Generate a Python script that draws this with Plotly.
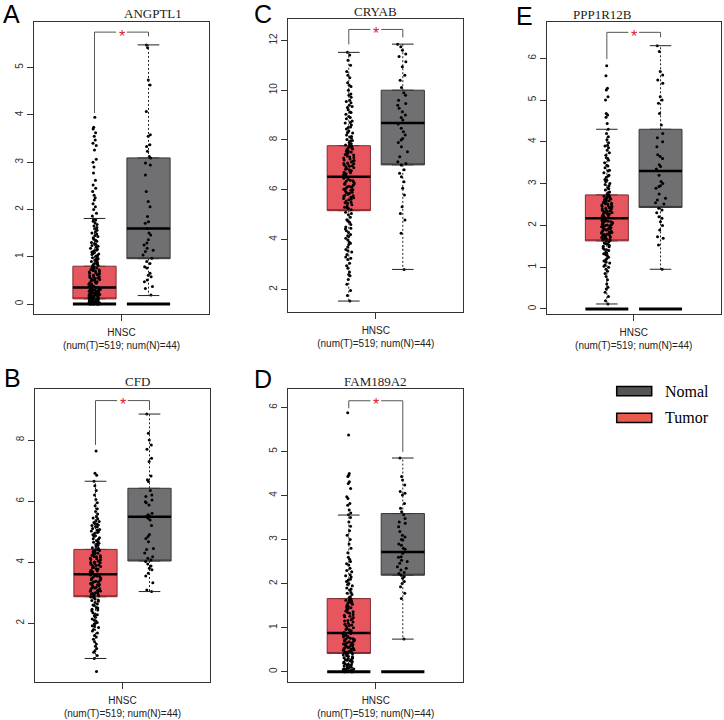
import plotly.graph_objects as go

# ---------------- data ----------------
genes = ["ANGPTL1", "CFD", "CRYAB", "FAM189A2", "PPP1R12B"]
panel_letters = ["A", "B", "C", "D", "E"]
cancer_label = "HNSC"
n_tumor = 519
n_normal = 44
legend_labels = ["Nomal", "Tumor"]

# box statistics (one value per gene, order as `genes`)
tumor_q1 = [0.11, 2.87, 5.16, 0.415, 1.63]
tumor_med = [0.35, 3.61, 6.52, 0.88, 2.17]
tumor_q3 = [0.80, 4.42, 7.77, 1.66, 2.73]
tumor_lo = [0.0, 0.85, 1.53, 0.0, 0.12]
tumor_hi = [1.81, 6.65, 11.52, 3.556, 4.30]

normal_q1 = [0.96, 4.04, 7.00, 2.19, 2.43]
normal_med = [1.60, 5.49, 8.68, 2.72, 3.30]
normal_q3 = [3.09, 6.42, 10.00, 3.59, 4.30]
normal_lo = [0.18, 3.04, 2.80, 0.74, 0.95]
normal_hi = [5.48, 8.85, 11.85, 4.85, 6.30]

# significance bracket heights (left leg end, top, right leg end)
bracket_left = [4.04, 7.84, 11.84, 5.98, 5.98]
bracket_top = [5.75, 9.29, 12.44, 6.15, 6.62]
bracket_right = [5.66, 8.98, 12.12, 4.99, 6.50]
significance = ["*", "*", "*", "*", "*"]

baseline_value = 0.0

angptl1_tumor = [0, 0, 0, 0, 0, 0, 0.01, 0.01, 0.02, 0.02, 0.03, 0.03, 0.04, 0.04, 0.05, 0.05,
                 0.06, 0.06, 0.07, 0.07, 0.08, 0.08, 0.09, 0.09, 0.1, 0.1, 0.02, 0.03, 0.05, 0.06, 0.08, 0.04,
                 0.12, 0.13, 0.14, 0.15, 0.16, 0.17, 0.18, 0.19, 0.2, 0.21, 0.22, 0.23, 0.24, 0.25, 0.26, 0.27,
                 0.28, 0.29, 0.3, 0.31, 0.32, 0.33, 0.34, 0.14, 0.17, 0.2, 0.23, 0.26, 0.29, 0.32, 0.13, 0.19,
                 0.36, 0.38, 0.4, 0.41, 0.43, 0.45, 0.46, 0.48, 0.5, 0.51, 0.53, 0.55, 0.56, 0.58, 0.6, 0.61,
                 0.63, 0.65, 0.66, 0.68, 0.7, 0.71, 0.73, 0.75, 0.76, 0.78, 0.79, 0.39, 0.44, 0.52, 0.62, 0.72,
                 0.82, 0.84, 0.85, 0.88, 0.9, 0.92, 0.93, 0.96, 0.98, 1.0, 1.03, 1.05, 1.07, 1.1, 1.12, 1.14,
                 1.18, 1.2, 1.22, 1.26, 1.3, 1.33, 1.35, 1.4, 1.45, 1.5, 1.56, 1.62, 1.68, 1.75, 1.8, 1.86,
                 1.92, 2.0, 2.06, 2.12, 2.2, 2.25, 2.3, 2.38, 2.45, 2.52, 2.62, 2.77, 2.9, 3.0, 3.06, 3.26,
                 3.35, 3.4, 3.47, 3.55, 3.62, 3.7, 3.74, 3.95,
                 0.0, 0.01, 0.03, 0.05, 0.07, 0.09, 0.11, 0.15, 0.18, 0.21, 0.24, 0.27, 0.3, 0.35, 0.37, 0.42,
                 0.47, 0.54, 0.57, 0.64, 0.69, 0.74, 0.81, 0.86, 0.91, 0.95, 1.01, 1.06, 1.09, 1.16, 1.24, 1.28,
                 1.37, 1.43, 1.48, 1.53, 1.59, 1.65, 1.72, 1.78]
angptl1_normal = [5.48, 5.42, 4.74, 4.63, 4.07, 3.58, 3.55, 3.37, 3.33, 3.23, 3.12, 3.09, 2.98, 2.94, 2.73,
                  2.38, 2.17, 2.06, 1.85, 1.74, 1.71, 1.6, 1.5, 1.46, 1.36, 1.29, 1.25, 1.18, 1.14, 1.11,
                  1.04, 0.97, 0.9, 0.86, 0.79, 0.76, 0.65, 0.61, 0.58, 0.51, 0.47, 0.37, 0.33, 0.19]

cfd_tumor = [0.42, 0.85, 0.95, 1.05, 1.1, 1.18, 1.25, 1.32, 1.4, 1.48, 1.55, 1.6, 1.68, 1.75, 1.8, 1.86,
             1.92, 1.98, 2.03, 2.08, 2.14, 2.2, 2.25, 2.3, 2.35, 2.4, 2.46, 2.52, 2.58, 2.63, 2.68, 2.72,
             2.76, 2.8, 2.84, 2.88, 2.9, 2.93, 2.95, 2.98, 3.0, 3.03, 3.05, 3.08, 3.1, 3.13, 3.15, 3.18,
             3.2, 3.23, 3.25, 3.28, 3.3, 3.33, 3.35, 3.38, 3.4, 3.43, 3.45, 3.48, 3.5, 3.53, 3.55, 3.58,
             3.6, 3.63, 3.66, 3.68, 3.71, 3.73, 3.76, 3.78, 3.81, 3.83, 3.86, 3.88, 3.91, 3.93, 3.96, 3.98,
             4.01, 4.03, 4.06, 4.08, 4.11, 4.13, 4.16, 4.18, 4.21, 4.23, 4.26, 4.28, 4.31, 4.33, 4.36, 4.38,
             4.41, 4.45, 4.5, 4.55, 4.6, 4.65, 4.7, 4.75, 4.8, 4.85, 4.9, 4.95, 5.0, 5.05, 5.1, 5.15,
             5.2, 5.25, 5.3, 5.36, 5.42, 5.5, 5.58, 5.66, 5.75, 5.85, 5.95, 6.05, 6.2, 6.35, 6.5, 6.65,
             6.85, 6.91, 7.64,
             2.1, 2.28, 2.44, 2.6, 2.75, 2.86, 2.96, 3.06, 3.16, 3.26, 3.36, 3.46, 3.56, 3.62, 3.69, 3.79,
             3.89, 3.99, 4.09, 4.19, 4.29, 4.39, 4.47, 4.57, 4.67, 4.77, 4.87, 4.97, 5.07, 5.17, 5.27, 5.33,
             5.45, 1.9, 2.0, 2.5, 4.42, 4.62, 5.02, 5.22]
cfd_normal = [8.85, 8.22, 8.0, 7.84, 7.7, 7.4, 7.3, 6.82, 6.7, 6.64, 6.35, 6.2, 6.15, 6.04, 5.98, 5.95,
              5.87, 5.6, 5.55, 5.51, 5.49, 5.44, 5.38, 5.2, 4.91, 4.84, 4.78, 4.67, 4.45, 4.42, 4.3, 4.18,
              4.13, 4.07, 4.02, 3.94, 3.88, 3.8, 3.75, 3.64, 3.55, 3.33, 3.09, 3.04]

cryab_tumor = [1.53, 1.75, 1.95, 2.2, 2.4, 2.55, 2.7, 2.85, 2.95, 3.05, 3.2, 3.3, 3.4, 3.5, 3.6, 3.7,
               3.8, 3.9, 3.98, 4.05, 4.12, 4.2, 4.28, 4.35, 4.42, 4.5, 4.6, 4.7, 4.8, 4.9, 5.0, 5.1,
               5.2, 5.25, 5.3, 5.35, 5.4, 5.45, 5.5, 5.55, 5.6, 5.65, 5.7, 5.74, 5.78, 5.82, 5.86, 5.9,
               5.94, 5.98, 6.02, 6.06, 6.1, 6.14, 6.18, 6.22, 6.26, 6.3, 6.34, 6.38, 6.42, 6.46, 6.5, 5.68,
               6.55, 6.6, 6.64, 6.68, 6.72, 6.76, 6.8, 6.84, 6.88, 6.92, 6.96, 7.0, 7.04, 7.08, 7.12, 7.16,
               7.2, 7.24, 7.28, 7.32, 7.36, 7.4, 7.44, 7.48, 7.52, 7.56, 7.6, 7.64, 7.68, 7.72, 7.75, 7.05,
               7.8, 7.85, 7.9, 7.96, 8.02, 8.08, 8.14, 8.2, 8.28, 8.36, 8.44, 8.52, 8.6, 8.68, 8.76, 8.85,
               8.94, 9.03, 9.12, 9.21, 9.3, 9.4, 9.5, 9.6, 9.72, 9.85, 10.0, 10.15, 10.3, 10.5, 10.6, 10.75,
               11.0, 11.2, 11.41, 11.52,
               3.55, 3.85, 4.15, 4.45, 4.75, 5.05, 5.28, 5.48, 5.62, 5.76, 5.88, 6.0, 6.12, 6.24, 6.36, 6.48,
               6.58, 6.7, 6.82, 6.94, 7.06, 7.18, 7.3, 7.42, 7.54, 7.66, 7.82, 7.98, 8.12, 8.3, 8.5, 8.7,
               8.9, 9.1, 9.35, 9.55, 9.8, 3.25, 2.6, 10.2]
cryab_normal = [11.85, 11.75, 11.6, 11.45, 11.35, 11.14, 10.94, 10.6, 10.4, 10.11, 9.9, 9.8, 9.6, 9.47,
                9.4, 9.27, 9.13, 9.0, 8.9, 8.8, 8.64, 8.47, 8.33, 8.2, 8.06, 8.0, 7.9, 7.73, 7.53, 7.33,
                7.13, 7.06, 7.0, 6.8, 6.66, 6.52, 6.32, 6.06, 5.79, 5.32, 5.05, 4.79, 4.25, 2.8]

fam189a2_tumor = [0, 0, 0, 0, 0.01, 0.02, 0.03, 0.04, 0.05, 0.06, 0.07, 0.08, 0.1, 0.12, 0.14, 0.16,
                  0.18, 0.2, 0.22, 0.24, 0.26, 0.28, 0.3, 0.32, 0.34, 0.36, 0.38, 0.4, 0.05, 0.09, 0.15, 0.25,
                  0.42, 0.44, 0.46, 0.48, 0.5, 0.52, 0.54, 0.56, 0.58, 0.6, 0.62, 0.64, 0.66, 0.68, 0.7, 0.72,
                  0.74, 0.76, 0.78, 0.8, 0.82, 0.84, 0.86, 0.87, 0.45, 0.55, 0.65, 0.75, 0.85, 0.51, 0.61, 0.71,
                  0.9, 0.93, 0.96, 1.0, 1.03, 1.06, 1.1, 1.13, 1.16, 1.2, 1.23, 1.26, 1.3, 1.33, 1.36, 1.4,
                  1.43, 1.46, 1.5, 1.53, 1.56, 1.6, 1.63, 1.65, 0.95, 1.05, 1.15, 1.25, 1.35, 1.45, 1.55, 1.62,
                  1.7, 1.75, 1.8, 1.85, 1.9, 1.95, 2.0, 2.05, 2.1, 2.15, 2.2, 2.27, 2.35, 2.42, 2.5, 2.6,
                  2.7, 2.8, 2.9, 3.0, 3.1, 3.2, 3.3, 3.4, 3.5, 3.56, 3.6, 3.67, 3.78, 3.82, 3.93, 3.97,
                  4.16, 4.27, 4.31, 4.43, 4.46, 4.5, 5.37, 5.88,
                  0.0, 0.02, 0.04, 0.07, 0.11, 0.13, 0.17, 0.21, 0.27, 0.31, 0.35, 0.39, 0.43, 0.49, 0.53, 0.59,
                  0.63, 0.69, 0.73, 0.79, 0.83, 0.89, 0.98, 1.08, 1.18, 1.28, 1.38, 1.48, 1.58, 1.68, 1.78, 1.88,
                  1.98, 2.08, 2.18, 2.3, 2.45, 2.55, 0.0, 0.01]
fam189a2_normal = [4.85, 4.43, 4.35, 4.24, 4.09, 4.05, 4.01, 3.82, 3.71, 3.63, 3.56, 3.48, 3.4, 3.37, 3.29,
                   3.18, 3.1, 3.06, 3.0, 2.99, 2.9, 2.87, 2.8, 2.78, 2.69, 2.61, 2.6, 2.53, 2.5, 2.46,
                   2.38, 2.35, 2.31, 2.25, 2.23, 2.19, 2.16, 2.12, 2.05, 2.0, 1.93, 1.78, 1.66, 0.74]

ppp1r12b_tumor = [0.12, 0.2, 0.3, 0.4, 0.48, 0.52, 0.6, 0.7, 0.78, 0.85, 0.9, 0.95, 1.0, 1.05, 1.1, 1.15,
                  1.2, 1.24, 1.28, 1.32, 1.36, 1.4, 1.43, 1.46, 1.49, 1.52, 1.55, 1.58, 1.6, 1.62, 1.34, 1.12,
                  1.65, 1.67, 1.69, 1.71, 1.73, 1.75, 1.77, 1.79, 1.81, 1.83, 1.85, 1.87, 1.89, 1.91, 1.93, 1.95,
                  1.97, 1.99, 2.01, 2.03, 2.05, 2.07, 2.09, 2.11, 2.13, 2.15, 1.76, 1.84, 1.92, 2.0, 2.08, 2.14,
                  2.19, 2.21, 2.23, 2.25, 2.27, 2.29, 2.31, 2.33, 2.35, 2.37, 2.39, 2.41, 2.43, 2.45, 2.47, 2.49,
                  2.51, 2.53, 2.55, 2.57, 2.59, 2.61, 2.63, 2.65, 2.67, 2.69, 2.71, 2.3, 2.4, 2.5, 2.6, 2.7,
                  2.76, 2.8, 2.85, 2.9, 2.95, 3.0, 3.05, 3.1, 3.15, 3.2, 3.26, 3.32, 3.38, 3.44, 3.5, 3.56,
                  3.62, 3.68, 3.74, 3.8, 3.86, 3.92, 3.98, 4.05, 4.12, 4.2, 4.3, 4.44, 4.59, 4.64, 4.68, 5.0,
                  5.08, 5.24, 5.28, 5.58, 5.82,
                  1.02, 1.18, 1.3, 1.42, 1.5, 1.56, 1.64, 1.68, 1.72, 1.78, 1.82, 1.86, 1.9, 1.94, 1.98, 2.02,
                  2.06, 2.1, 2.12, 2.2, 2.24, 2.28, 2.32, 2.36, 2.42, 2.46, 2.52, 2.56, 2.62, 2.66, 2.72, 2.78,
                  2.88, 2.98, 3.08, 3.18, 3.3, 3.42, 3.6, 3.9]
ppp1r12b_normal = [6.3, 6.16, 5.68, 5.6, 5.48, 5.4, 5.08, 5.0, 4.92, 4.68, 4.4, 4.2, 4.1, 4.0, 3.88,
                   3.69, 3.65, 3.6, 3.45, 3.41, 3.35, 3.2, 3.05, 3.0, 2.95, 2.93, 2.89, 2.75, 2.65, 2.61,
                   2.54, 2.51, 2.41, 2.37, 2.3, 2.21, 2.17, 2.09, 2.0, 1.89, 1.73, 1.69, 1.53, 0.95]

tumor_points = [angptl1_tumor, cfd_tumor, cryab_tumor, fam189a2_tumor, ppp1r12b_tumor]
normal_points = [angptl1_normal, cfd_normal, cryab_normal, fam189a2_normal, ppp1r12b_normal]

# ---------------- layout / style ----------------
W, H = 724, 720
# pixel frames of each panel: (left, right, top, bottom)
frames = [(34, 209, 21.7, 314), (35, 210, 389.3, 682.3), (288.3, 463.3, 19, 312),
          (288.3, 463.3, 389.3, 682.3), (546.7, 720.7, 22.3, 314)]
y_ranges = [(-0.21, 5.97), (0.07, 9.66), (1.09, 12.86), (-0.24, 6.41), (-0.12, 6.86)]
y_dticks = [1, 2, 2, 1, 1]
letter_pos = [(11, 13.5), (12.3, 377.5), (263, 14), (263.3, 379), (524.7, 15.8)]

X_RANGE = (-0.12, 3.12)
POS_T, POS_N, POS_MID = 1.0, 2.0, 1.5
BOX_W = 0.8
CAP_W = 0.4
GAP = 0.1

TUMOR_FILL = "#E7565F"
TUMOR_LINE = "#7E2B30"
NORMAL_FILL = "#707072"
NORMAL_LINE = "#383838"
SANS = "Liberation Sans, Arial, sans-serif"
SERIF = "Liberation Serif, Times New Roman, serif"

fig = go.Figure()
layout_axes = {}
annotations = []

for i in range(len(genes)):
    xs = "" if i == 0 else str(i + 1)
    xa, ya = "x" + xs, "y" + xs
    left, right, top, bottom = frames[i]

    groups = [
        (POS_T, tumor_q1[i], tumor_med[i], tumor_q3[i], tumor_lo[i], tumor_hi[i],
         tumor_points[i], TUMOR_FILL, TUMOR_LINE),
        (POS_N, normal_q1[i], normal_med[i], normal_q3[i], normal_lo[i], normal_hi[i],
         normal_points[i], NORMAL_FILL, NORMAL_LINE),
    ]
    # boxes
    for pos, q1, med, q3, lo, hi, pts, fc, lc in groups:
        fig.add_trace(go.Box(x=[pos], q1=[q1], median=[q1], q3=[q3], lowerfence=[q1],
                             upperfence=[q3], width=BOX_W, fillcolor=fc,
                             line=dict(color=lc, width=1), boxpoints=False,
                             hoverinfo="skip", showlegend=False, xaxis=xa, yaxis=ya))
    # jittered sample points
    for pos, q1, med, q3, lo, hi, pts, fc, lc in groups:
        fig.add_trace(go.Box(y=pts, x0=pos, width=BOX_W, boxpoints="all", jitter=0.26,
                             pointpos=0, fillcolor="rgba(0,0,0,0)",
                             line=dict(width=0, color="rgba(0,0,0,0)"),
                             marker=dict(color="black", size=3),
                             hoverinfo="skip", showlegend=False, xaxis=xa, yaxis=ya))
    # whiskers, caps, medians, zero bars
    for pos, q1, med, q3, lo, hi, pts, fc, lc in groups:
        fig.add_trace(go.Scatter(x=[pos, pos, None, pos, pos], y=[q3, hi, None, q1, lo],
                                 mode="lines", line=dict(color="#222", width=1, dash="2px,2px"),
                                 hoverinfo="skip", showlegend=False, xaxis=xa, yaxis=ya))
        fig.add_trace(go.Scatter(x=[pos - CAP_W / 2, pos + CAP_W / 2, None, pos - CAP_W / 2, pos + CAP_W / 2],
                                 y=[hi, hi, None, lo, lo], mode="lines",
                                 line=dict(color="#222", width=1),
                                 hoverinfo="skip", showlegend=False, xaxis=xa, yaxis=ya))
        fig.add_trace(go.Scatter(x=[pos - BOX_W / 2, pos + BOX_W / 2], y=[med, med], mode="lines",
                                 line=dict(color="black", width=2.5),
                                 hoverinfo="skip", showlegend=False, xaxis=xa, yaxis=ya))
        fig.add_trace(go.Scatter(x=[pos - BOX_W / 2, pos + BOX_W / 2], y=[baseline_value, baseline_value],
                                 mode="lines", line=dict(color="black", width=3),
                                 hoverinfo="skip", showlegend=False, xaxis=xa, yaxis=ya))
    # significance bracket
    fig.add_trace(go.Scatter(x=[POS_T, POS_T, POS_MID - GAP, None, POS_MID + GAP, POS_N, POS_N],
                             y=[bracket_left[i], bracket_top[i], bracket_top[i], None,
                                bracket_top[i], bracket_top[i], bracket_right[i]],
                             mode="lines", line=dict(color="#555", width=1),
                             hoverinfo="skip", showlegend=False, xaxis=xa, yaxis=ya))
    annotations.append(dict(x=POS_MID, y=bracket_top[i], xref=xa, yref=ya, text=significance[i],
                            showarrow=False, font=dict(family=SANS, size=16, color="#E0202A"),
                            yanchor="middle", yshift=-4))

    layout_axes["xaxis" + xs] = dict(
        domain=[left / W, right / W], range=list(X_RANGE), anchor=ya,
        tickvals=[POS_MID], ticktext=[f"{cancer_label}<br>(num(T)={n_tumor}; num(N)={n_normal})"],
        ticks="outside", ticklen=6, tickcolor="#333", showline=True, mirror=True,
        linecolor="#333", linewidth=1, showgrid=False, zeroline=False,
        tickfont=dict(family=SANS, size=10, color="#222"), ticklabelstandoff=3)
    layout_axes["yaxis" + xs] = dict(
        domain=[1 - bottom / H, 1 - top / H], range=list(y_ranges[i]), anchor=xa,
        tick0=0, dtick=y_dticks[i], ticks="outside", ticklen=6, tickcolor="#333",
        tickangle=-90, showline=True, mirror=True, linecolor="#333", linewidth=1,
        showgrid=False, zeroline=False, tickfont=dict(family=SANS, size=10, color="#333"))

    # gene title
    annotations.append(dict(x=(left + right) / 2 / W, y=1 - top / H, xref="paper", yref="paper",
                            text=genes[i], showarrow=False, yanchor="middle", yshift=8,
                            font=dict(family=SERIF, size=13, color="#222")))
    # panel letter
    lx, ly = letter_pos[i]
    annotations.append(dict(x=lx / W, y=1 - ly / H, xref="paper", yref="paper",
                            text=panel_letters[i], showarrow=False, xanchor="center",
                            yanchor="middle", font=dict(family=SANS, size=25, color="black")))

# legend drawn as shapes + text
legend_fill = ["#555555", "#E95A4C"]
legend_rows = [391.2, 417.8]
shapes = []
for lab, fcol, ry in zip(legend_labels, legend_fill, legend_rows):
    shapes.append(dict(type="rect", xref="paper", yref="paper", x0=616.7 / W, x1=651.7 / W,
                       y0=1 - (ry + 4.6) / H, y1=1 - (ry - 4.6) / H,
                       fillcolor=fcol, line=dict(color="black", width=1.5)))
    annotations.append(dict(x=663 / W, y=1 - ry / H, xref="paper", yref="paper", text=lab,
                            showarrow=False, xanchor="left", yanchor="middle",
                            font=dict(family=SERIF, size=16, color="black")))

fig.update_layout(width=W, height=H, margin=dict(l=0, r=0, t=0, b=0),
                  paper_bgcolor="white", plot_bgcolor="white", boxmode="overlay",
                  showlegend=False, annotations=annotations, shapes=shapes, **layout_axes)

fig.write_html("out.html", config={"displayModeBar": False},
               post_script="document.body.style.margin='0px';")
